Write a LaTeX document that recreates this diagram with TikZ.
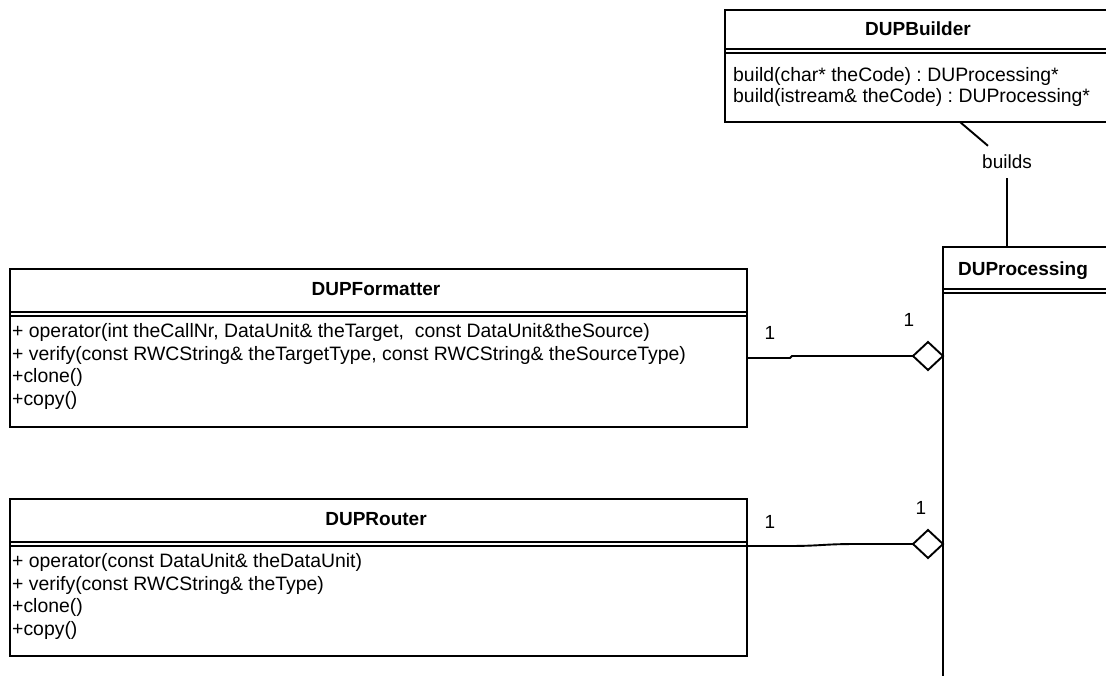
\documentclass[tikz,border=0pt]{standalone}
\usepackage{fontspec}
\setmainfont{Liberation Sans}
\usetikzlibrary{shapes.geometric}
\frenchspacing
\begin{document}
\begin{tikzpicture}[x=1pt,y=-1pt,
  cls/.style={draw, line width=1.9pt, inner sep=0pt, outer sep=0pt, anchor=north west, fill=white},
  sep/.style={line width=1.9pt},
  ttl/.style={font=\bfseries\fontsize{19}{22}\selectfont, anchor=base, inner sep=0pt},
  meth/.style={font=\fontsize{19.4}{22}\selectfont, anchor=base west, inner sep=0pt},
  mult/.style={font=\fontsize{19}{22}\selectfont, inner sep=0pt},
  conn/.style={line width=1.9pt},
  agg/.style={draw, shape=diamond, line width=1.9pt, fill=white, minimum width=30pt, minimum height=28pt, inner sep=0pt, outer sep=0pt}]
\path[use as bounding box] (0,0) rectangle (1106,675);
\clip (0,0) rectangle (1106,675);

% DUPBuilder
\node[cls, minimum width=420pt, minimum height=112pt] (bld) at (725,10) {};
\draw[sep] ([yshift=-39pt]bld.north west) -- ([yshift=-39pt]bld.north east);
\draw[sep] ([yshift=-43pt]bld.north west) -- ([yshift=-43pt]bld.north east);
\node[ttl] (bldT) at (918,35) {DUPBuilder};
\node[meth] (bldM1) at (733,81) {build(char* theCode) : DUProcessing*};
\node[meth] (bldM2) at (733,102) {build(istream\& theCode) : DUProcessing*};

% DUProcessing
\node[cls, minimum width=300pt, minimum height=500pt] (proc) at (943,247) {};
\draw[sep] ([yshift=-42pt]proc.north west) -- ([yshift=-42pt]proc.north east);
\draw[sep] ([yshift=-46pt]proc.north west) -- ([yshift=-46pt]proc.north east);
\node[ttl] (procT) at (1023,275) {DUProcessing};

% DUPFormatter
\node[cls, minimum width=737pt, minimum height=158pt] (fmt) at (10,269) {};
\draw[sep] ([yshift=-43pt]fmt.north west) -- ([yshift=-43pt]fmt.north east);
\draw[sep] ([yshift=-47pt]fmt.north west) -- ([yshift=-47pt]fmt.north east);
\node[ttl] (fmtT) at (376,295) {DUPFormatter};
\node[meth] (fmtM1) at (12,337.5) {+ operator(int theCallNr, DataUnit\& theTarget,\ \ const DataUnit\&theSource)};
\node[meth] (fmtM2) at (12,360.2) {+ verify(const RWCString\& theTargetType, const RWCString\& theSourceType)};
\node[meth] (fmtM3) at (12,382.9) {+clone()};
\node[meth] (fmtM4) at (12,405.6) {+copy()};

% DUPRouter
\node[cls, minimum width=737pt, minimum height=157pt] (rtr) at (10,499) {};
\draw[sep] ([yshift=-43pt]rtr.north west) -- ([yshift=-43pt]rtr.north east);
\draw[sep] ([yshift=-47pt]rtr.north west) -- ([yshift=-47pt]rtr.north east);
\node[ttl] (rtrT) at (376,525) {DUPRouter};
\node[meth] (rtrM1) at (12,567.5) {+ operator(const DataUnit\& theDataUnit)};
\node[meth] (rtrM2) at (12,590.2) {+ verify(const RWCString\& theType)};
\node[meth] (rtrM3) at (12,612.9) {+clone()};
\node[meth] (rtrM4) at (12,635.6) {+copy()};

% builds association
\node[mult, minimum height=32pt] (lbl) at (1007,162) {builds};
\draw[conn] ([xshift=25pt]bld.south) -- (lbl);
\draw[conn] (lbl) -- (lbl |- proc.north);

% aggregations
\node[agg] (dia1) at (928,356) {};
\node[agg] (dia2) at (928,544) {};
\draw[conn] ([yshift=-10pt]fmt.east) -- ++(43,0) -- ++(2,-2) -- (dia1.west);
\draw[conn] ([yshift=31.5pt]rtr.east) -- ++(40,0) .. controls +(35,0) and +(-35,0) .. ++(70,-2) -- (dia2.west);

\node[mult] (m1) at (770,333) {1};
\node[mult] (m2) at (909,320) {1};
\node[mult] (m3) at (770,522) {1};
\node[mult] (m4) at (921,508) {1};
\end{tikzpicture}
\end{document}
